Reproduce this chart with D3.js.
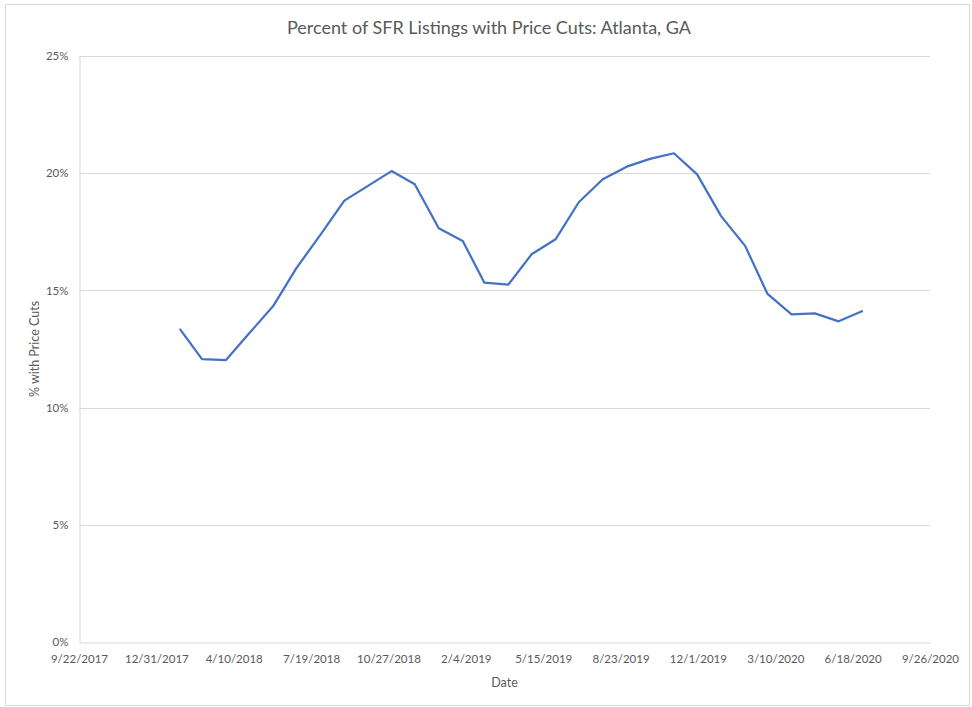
<!DOCTYPE html>
<html>
<head>
<meta charset="utf-8">
<script src="https://cdn.jsdelivr.net/npm/d3@7"></script>
<style>
  html, body { margin: 0; padding: 0; background: #fff; }
  svg text { font-family: Lato, "Open Sans", sans-serif; fill: #595959; }
</style>
</head>
<body>
<svg id="chart" width="972" height="707"></svg>
<script>
// Month-end observation dates, Jan 2018 – Jun 2020
const months = [
  "2018-01-31","2018-02-28","2018-03-31","2018-04-30","2018-05-31","2018-06-30",
  "2018-07-31","2018-08-31","2018-09-30","2018-10-31","2018-11-30","2018-12-31",
  "2019-01-31","2019-02-28","2019-03-31","2019-04-30","2019-05-31","2019-06-30",
  "2019-07-31","2019-08-31","2019-09-30","2019-10-31","2019-11-30","2019-12-31",
  "2020-01-31","2020-02-29","2020-03-31","2020-04-30","2020-05-31","2020-06-30"
];
// Share of single-family rental listings with a price cut (%)
const pctPriceCuts = [
  13.33, 12.07, 12.03, 13.17, 14.33, 15.95,
  17.37, 18.83, 19.45, 20.09, 19.53, 17.65,
  17.11, 15.33, 15.25, 16.54, 17.18, 18.76,
  19.74, 20.28, 20.61, 20.85, 19.95, 18.17,
  16.90, 14.85, 13.98, 14.02, 13.68, 14.11
];
// Axis tick positions
const xTickDates = [
  "2017-09-22","2017-12-31","2018-04-10","2018-07-19","2018-10-27","2019-02-04",
  "2019-05-15","2019-08-23","2019-12-01","2020-03-10","2020-06-18","2020-09-26"
];
const yTicks = [0, 5, 10, 15, 20, 25];

const title = "Percent of SFR Listings with Price Cuts: Atlanta, GA";
const xTitle = "Date";
const yTitle = "% with Price Cuts";

const parse = d3.utcParse("%Y-%m-%d");
const fmtDate = d3.utcFormat("%-m/%-d/%Y");

const data = months.map((m, i) => ({ date: parse(m), value: pctPriceCuts[i] }));
const xTickVals = xTickDates.map(parse);

const svg = d3.select("#chart");
const plot = { left: 79, right: 930, top: 56, bottom: 642 };

// outer chart border
svg.append("rect")
  .attr("x", 5.5).attr("y", 4.5)
  .attr("width", 964).attr("height", 701)
  .attr("fill", "#fff").attr("stroke", "#d9d9d9");

const x = d3.scaleUtc()
  .domain([xTickVals[0], xTickVals[xTickVals.length - 1]])
  .range([plot.left, plot.right]);
const y = d3.scaleLinear().domain([0, 25]).range([plot.bottom, plot.top]);

// horizontal gridlines
svg.append("g")
  .selectAll("line")
  .data(yTicks.filter(t => t > 0))
  .join("line")
  .attr("x1", plot.left).attr("x2", plot.right)
  .attr("y1", d => Math.round(y(d)) + 0.5).attr("y2", d => Math.round(y(d)) + 0.5)
  .attr("stroke", "#d9d9d9").attr("stroke-width", 1);

// y axis
const yAxis = svg.append("g")
  .attr("transform", `translate(${plot.left + 0.5},0)`)
  .call(d3.axisLeft(y).tickValues(yTicks).tickFormat(d => d + "%").tickSize(0).tickPadding(11));
yAxis.select(".domain").attr("stroke", "#d9d9d9");
yAxis.selectAll("text").attr("font-size", 11.5).style("fill", "#595959")
  .style("font-family", "Lato, 'Open Sans', sans-serif");

// x axis
const xAxis = svg.append("g")
  .attr("transform", `translate(0,${plot.bottom + 0.5})`)
  .call(d3.axisBottom(x).tickValues(xTickVals).tickFormat(fmtDate).tickSize(0).tickPadding(12));
xAxis.select(".domain").attr("stroke", "#d9d9d9");
xAxis.selectAll("text").attr("font-size", 11.5).style("fill", "#595959")
  .style("font-family", "Lato, 'Open Sans', sans-serif");

// series line
const line = d3.line().x(d => x(d.date)).y(d => y(d.value));
svg.append("path")
  .datum(data)
  .attr("d", line)
  .attr("fill", "none")
  .attr("stroke", "#4472c4")
  .attr("stroke-width", 2.25)
  .attr("stroke-linejoin", "round")
  .attr("stroke-linecap", "round");

// titles
svg.append("text")
  .attr("x", 489).attr("y", 34)
  .attr("text-anchor", "middle")
  .attr("font-size", 18)
  .text(title);

svg.append("text")
  .attr("x", (plot.left + plot.right) / 2).attr("y", 687)
  .attr("text-anchor", "middle")
  .attr("font-size", 12.5)
  .text(xTitle);

svg.append("text")
  .attr("transform", `translate(39,${(plot.top + plot.bottom) / 2}) rotate(-90)`)
  .attr("text-anchor", "middle")
  .attr("font-size", 12.5)
  .text(yTitle);
</script>
</body>
</html>
